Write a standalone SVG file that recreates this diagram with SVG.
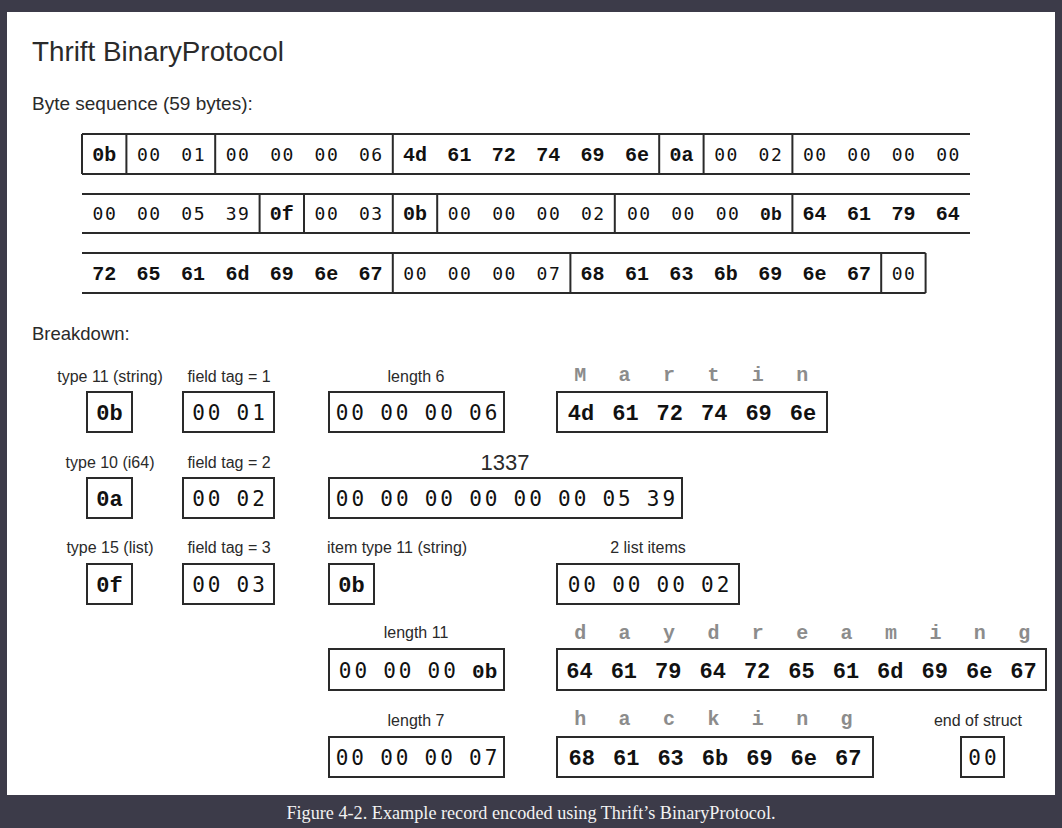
<svg xmlns="http://www.w3.org/2000/svg" width="1062" height="828" viewBox="0 0 1062 828">
<style>
.bg{fill:#3c3b49}
.panel{fill:#ffffff}
.ln{stroke:#2a2a2a;stroke-width:2;fill:none}
.bx{stroke:#2a2a2a;stroke-width:2;fill:#ffffff}
.hx{font-family:"Liberation Mono","Courier New",monospace;font-weight:bold;font-size:20px;word-spacing:8.4px;fill:#111;text-anchor:middle}
.nm{font-family:"DejaVu Sans Mono",monospace;font-size:18px;letter-spacing:1.5px;word-spacing:7.4px;fill:#111;text-anchor:middle}
.hxb{font-family:"Liberation Mono","Courier New",monospace;font-weight:bold;font-size:22px;word-spacing:4.8px;fill:#111;text-anchor:middle}
.nmb{font-family:"DejaVu Sans Mono",monospace;font-size:21px;letter-spacing:3px;word-spacing:-2.5px;fill:#111;text-anchor:middle}
.hxt{font-family:"Liberation Mono","Courier New",monospace;font-weight:bold;letter-spacing:0;word-spacing:0}
.ch{font-family:"Liberation Mono","Courier New",monospace;font-weight:bold;font-size:20px;fill:#8c8c8c;text-anchor:middle}
.lb{font-family:"Liberation Sans",Arial,sans-serif;font-size:16px;fill:#2a2a2a;text-anchor:middle}
.hd{font-family:"Liberation Sans",Arial,sans-serif;font-size:18.5px;fill:#2a2a2a}
.cap{font-family:"Liberation Serif","Times New Roman",serif;font-size:18.2px;fill:#f2f2f2;text-anchor:middle}
</style>
<rect class="bg" x="0" y="0" width="1062" height="828"/>
<rect class="panel" x="7" y="12" width="1048" height="783"/>
<text x="32" y="61" font-family="Liberation Sans, Arial, sans-serif" font-size="27.8" fill="#2a2a2a">Thrift BinaryProtocol</text>
<text class="hd" x="32" y="110" font-size="19" style="font-size:19px">Byte sequence (59 bytes):</text>

<g id="row1">
<path class="ln" d="M82,134 H970 M82,174 H970 M82,134 V174 M126.4,134 V174 M215.2,134 V174 M392.8,134 V174 M659.2,134 V174 M703.6,134 V174 M792.4,134 V174"/>
<g id="r1-type"><text class="hx" x="104.2" y="161">0b</text></g>
<g id="r1-tag"><text class="nm" x="171.5" y="161">00 01</text></g>
<g id="r1-len"><text class="nm" x="304.7" y="161">00 00 00 06</text></g>
<g id="r1-martin"><text class="hx" x="526" y="161">4d 61 72 74 69 6e</text></g>
<g id="r1-type2"><text class="hx" x="681.4" y="161">0a</text></g>
<g id="r1-tag2"><text class="nm" x="748.7" y="161">00 02</text></g>
<g id="r1-i64a"><text class="nm" x="881.9" y="161">00 00 00 00</text></g>
</g>

<g id="row2">
<path class="ln" d="M82,194 H970 M82,233 H970 M259.6,194 V233 M304,194 V233 M392.8,194 V233 M437.2,194 V233 M614.8,194 V233 M792.4,194 V233"/>
<g id="r2-i64b"><text class="nm" x="171.5" y="220">00 00 05 39</text></g>
<g id="r2-type3"><text class="hx" x="281.8" y="220">0f</text></g>
<g id="r2-tag3"><text class="nm" x="349.1" y="220">00 03</text></g>
<g id="r2-itemtype"><text class="hx" x="415" y="220">0b</text></g>
<g id="r2-count"><text class="nm" x="526.7" y="220">00 00 00 02</text></g>
<g id="r2-len11"><text class="nm" x="704.3" y="220">00 00 00 <tspan class="hxt">0b</tspan></text></g>
<g id="r2-day"><text class="hx" x="881.2" y="220">64 61 79 64</text></g>
</g>

<g id="row3">
<path class="ln" d="M82,253 H925.6 M82,293 H925.6 M392.8,253 V293 M570.4,253 V293 M881.2,253 V293 M925.6,253 V293"/>
<g id="r3-dream"><text class="hx" x="237.4" y="280">72 65 61 6d 69 6e 67</text></g>
<g id="r3-len7"><text class="nm" x="482.3" y="280">00 00 00 07</text></g>
<g id="r3-hacking"><text class="hx" x="725.8" y="280">68 61 63 6b 69 6e 67</text></g>
<g id="r3-end"><text class="nm" x="904.1" y="280">00</text></g>
</g>

<text class="hd" x="32" y="340">Breakdown:</text>

<g id="b-type1">
<text class="lb" x="110" y="382">type 11 (string)</text>
<rect class="bx" x="87" y="392" width="45" height="40"/>
<text class="hxb" x="109.5" y="420">0b</text>
</g>
<g id="b-tag1">
<text class="lb" x="229" y="382">field tag = 1</text>
<rect class="bx" x="183" y="392" width="91" height="40"/>
<text class="nmb" x="230" y="420">00 01</text>
</g>
<g id="b-len6">
<text class="lb" x="416" y="382">length 6</text>
<rect class="bx" x="329" y="392" width="175" height="40"/>
<text class="nmb" x="418" y="420">00 00 00 06</text>
</g>
<g id="b-martin">
<text class="ch" x="580.2" y="381">M</text>
<text class="ch" x="624.6" y="381">a</text>
<text class="ch" x="669" y="381">r</text>
<text class="ch" x="713.4" y="381">t</text>
<text class="ch" x="757.8" y="381">i</text>
<text class="ch" x="802.2" y="381">n</text>
<rect class="bx" x="557" y="392" width="270" height="40"/>
<text class="hxb" x="692" y="420">4d 61 72 74 69 6e</text>
</g>

<g id="b-type2">
<text class="lb" x="110" y="468">type 10 (i64)</text>
<rect class="bx" x="87" y="478" width="45" height="40"/>
<text class="hxb" x="109.5" y="506">0a</text>
</g>
<g id="b-tag2">
<text class="lb" x="229" y="468">field tag = 2</text>
<rect class="bx" x="183" y="478" width="91" height="40"/>
<text class="nmb" x="230" y="506">00 02</text>
</g>
<g id="b-1337">
<text x="505" y="470" font-family="Liberation Sans, Arial, sans-serif" font-size="22" fill="#2a2a2a" text-anchor="middle">1337</text>
<rect class="bx" x="329" y="478" width="353" height="40"/>
<text class="nmb" x="507" y="506">00 00 00 00 00 00 05 39</text>
</g>

<g id="b-type3">
<text class="lb" x="110" y="553">type 15 (list)</text>
<rect class="bx" x="87" y="564" width="45" height="40"/>
<text class="hxb" x="109.5" y="592">0f</text>
</g>
<g id="b-tag3">
<text class="lb" x="229" y="553">field tag = 3</text>
<rect class="bx" x="183" y="564" width="91" height="40"/>
<text class="nmb" x="230" y="592">00 03</text>
</g>
<g id="b-itemtype">
<text class="lb" x="327" y="553" style="text-anchor:start">item type 11 (string)</text>
<rect class="bx" x="329" y="564" width="45" height="40"/>
<text class="hxb" x="351.5" y="592">0b</text>
</g>
<g id="b-count">
<text class="lb" x="648" y="553">2 list items</text>
<rect class="bx" x="557" y="564" width="182" height="40"/>
<text class="nmb" x="650" y="592">00 00 00 02</text>
</g>

<g id="b-len11">
<text class="lb" x="416" y="638">length 11</text>
<rect class="bx" x="329" y="649" width="175" height="41"/>
<text class="nmb" x="418" y="677.5">00 00 00 <tspan class="hxt">0b</tspan></text>
</g>
<g id="b-daydreaming">
<text class="ch" x="580.2" y="639">d</text>
<text class="ch" x="624.6" y="639">a</text>
<text class="ch" x="669" y="639">y</text>
<text class="ch" x="713.4" y="639">d</text>
<text class="ch" x="757.8" y="639">r</text>
<text class="ch" x="802.2" y="639">e</text>
<text class="ch" x="846.6" y="639">a</text>
<text class="ch" x="891" y="639">m</text>
<text class="ch" x="935.4" y="639">i</text>
<text class="ch" x="979.8" y="639">n</text>
<text class="ch" x="1024.2" y="639">g</text>
<rect class="bx" x="557" y="649" width="489" height="41"/>
<text class="hxb" x="801.5" y="677.5">64 61 79 64 72 65 61 6d 69 6e 67</text>
</g>

<g id="b-len7">
<text class="lb" x="416" y="726">length 7</text>
<rect class="bx" x="329" y="737" width="175" height="40"/>
<text class="nmb" x="418" y="765">00 00 00 07</text>
</g>
<g id="b-hacking">
<text class="ch" x="580.2" y="725">h</text>
<text class="ch" x="624.6" y="725">a</text>
<text class="ch" x="669" y="725">c</text>
<text class="ch" x="713.4" y="725">k</text>
<text class="ch" x="757.8" y="725">i</text>
<text class="ch" x="802.2" y="725">n</text>
<text class="ch" x="846.6" y="725">g</text>
<rect class="bx" x="557" y="737" width="316" height="40"/>
<text class="hxb" x="715" y="765">68 61 63 6b 69 6e 67</text>
</g>
<g id="b-end">
<text class="lb" x="978" y="726">end of struct</text>
<rect class="bx" x="961" y="737" width="43" height="40"/>
<text class="nmb" x="984" y="765">00</text>
</g>

<g id="connectors"></g>

<text class="cap" x="531" y="819">Figure 4-2. Example record encoded using Thrift’s BinaryProtocol.</text>
</svg>
